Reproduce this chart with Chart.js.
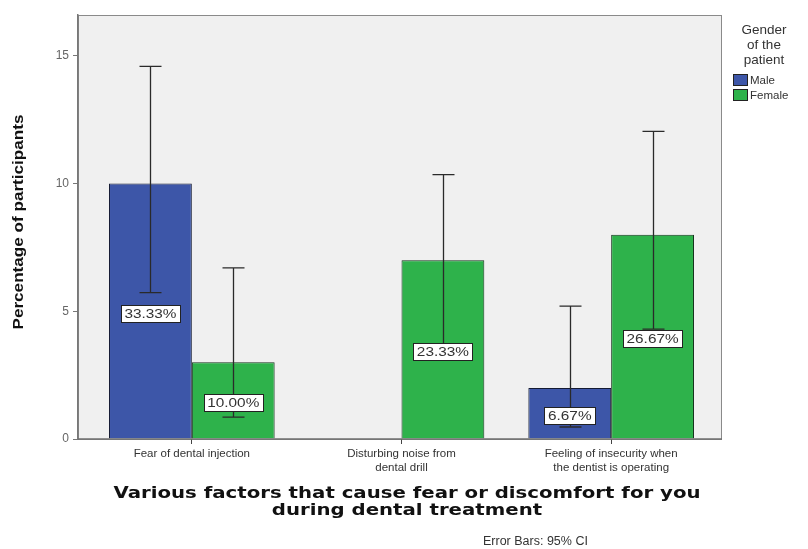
<!DOCTYPE html>
<html>
<head>
<meta charset="utf-8">
<script src="https://cdn.jsdelivr.net/npm/chart.js@4/dist/chart.umd.min.js"></script>
<style>
  html, body { margin: 0; padding: 0; background: #fff; }
  #wrap { width: 808px; height: 549px; }
</style>
</head>
<body>
<div id="wrap"><canvas id="report" width="808" height="549"></canvas></div>
<script>
// data
const categories = [
    ['Fear of dental injection'],
    ['Disturbing noise from', 'dental drill'],
    ['Feeling of insecurity when', 'the dentist is operating']
];
const seriesNames = ['Male', 'Female'];
const maleValues = [10, null, 2];
const femaleValues = [3, 7, 8];
// 95% CI ends
const maleLow = [5.73, null, 0.47];
const maleHigh = [14.59, null, 5.2];
const femaleLow = [0.86, 3.6, 4.3];
const femaleHigh = [6.7, 10.35, 12.04];
// labels printed in the bars
const maleLabels = ['33.33%', null, '6.67%'];
const femaleLabels = ['10.00%', '23.33%', '26.67%'];
const yTicks = [0, 5, 10, 15];

const colors = {
    'Male': '#3d56a8',
    'Female': '#2eb24b'
};

const lows = [maleLow, femaleLow];
const highs = [maleHigh, femaleHigh];
const barLabels = [maleLabels, femaleLabels];

// SPSS leaves a bit more room on the left of the first category
const insetPlugin = {
    id: 'inset',
    afterLayout(chart) {
        const x = chart.scales.x;
        x.left = chart.chartArea.left + 9;
        x.right = chart.chartArea.right - 6;
        x.width = x.right - x.left;
        x.configure();
    }
};

// plot background + frame
const framePlugin = {
    id: 'frame',
    beforeDraw(chart) {
        const a = chart.chartArea;
        const ctx = chart.ctx;
        ctx.save();
        ctx.fillStyle = '#f0f0f0';
        ctx.fillRect(a.left, a.top, a.right - a.left, a.bottom - a.top);
        ctx.strokeStyle = '#8a8a8a';
        ctx.lineWidth = 1;
        ctx.strokeRect(a.left + 0.5, a.top + 0.5, a.right - a.left - 1, a.bottom - a.top);
        ctx.restore();
    },
    afterDatasetsDraw(chart) {
        const a = chart.chartArea;
        const ctx = chart.ctx;
        ctx.save();
        ctx.strokeStyle = '#6f6f6f';
        ctx.lineWidth = 1.5;
        ctx.beginPath();
        ctx.moveTo(a.left, a.bottom);
        ctx.lineTo(a.right, a.bottom);
        ctx.stroke();
        ctx.restore();
    }
};

// error bars and value boxes
const extrasPlugin = {
    id: 'extras',
    afterDatasetsDraw(chart) {
        const ctx = chart.ctx;
        const y = chart.scales.y;
        ctx.save();
        ctx.strokeStyle = '#2a2a2a';
        ctx.lineWidth = 1.3;
        for (let d = 0; d < 2; d++) {
            const meta = chart.getDatasetMeta(d);
            meta.data.forEach(function(bar, i) {
                if (lows[d][i] == null) return;
                const x = Math.round(bar.x) + 0.5;
                const yl = y.getPixelForValue(lows[d][i]);
                const yh = y.getPixelForValue(highs[d][i]);
                ctx.beginPath();
                ctx.moveTo(x, yl); ctx.lineTo(x, yh);
                ctx.moveTo(x - 11, yl); ctx.lineTo(x + 11, yl);
                ctx.moveTo(x - 11, yh); ctx.lineTo(x + 11, yh);
                ctx.stroke();
            });
        }
        ctx.font = '12px "Liberation Sans", Arial, sans-serif';
        ctx.textAlign = 'center';
        ctx.textBaseline = 'middle';
        const sx = 1.28;
        const values = [maleValues, femaleValues];
        for (let d = 0; d < 2; d++) {
            const meta = chart.getDatasetMeta(d);
            meta.data.forEach(function(bar, i) {
                const txt = barLabels[d][i];
                if (!txt) return;
                const x = bar.x;
                const yc = y.getPixelForValue(values[d][i] / 2) + 2;
                const w = Math.round(ctx.measureText(txt).width * sx + 7);
                const h = 17;
                const bx = Math.round(x - w / 2) + 0.5;
                const by = Math.round(yc - h / 2) + 0.5;
                ctx.fillStyle = '#ffffff';
                ctx.fillRect(bx, by, w, h);
                ctx.strokeStyle = '#222';
                ctx.lineWidth = 1;
                ctx.strokeRect(bx, by, w, h);
                ctx.fillStyle = '#333';
                ctx.save();
                ctx.translate(x, yc + 1);
                ctx.scale(sx, 1);
                ctx.fillText(txt, 0, 0);
                ctx.restore();
            });
        }
        ctx.restore();
    }
};

// titles, legend and footnote
const textPlugin = {
    id: 'texts',
    afterDraw(chart) {
        const ctx = chart.ctx;
        ctx.save();
        // y title
        ctx.fillStyle = '#111';
        ctx.font = 'bold 15px "Liberation Sans Narrow", "Liberation Sans", Arial, sans-serif';
        ctx.textAlign = 'center';
        ctx.textBaseline = 'middle';
        const yt = 'Percentage of participants';
        const yw = ctx.measureText(yt).width;
        ctx.translate(19, 222);
        ctx.rotate(-Math.PI / 2);
        ctx.scale(215 / yw, 1);
        ctx.fillText(yt, 0, 0);
        ctx.restore();

        ctx.save();
        ctx.fillStyle = '#111';
        ctx.textAlign = 'center';
        ctx.textBaseline = 'middle';
        ctx.font = 'bold 16px "DejaVu Sans", Verdana, sans-serif';
        const l1 = 'Various factors that cause fear or discomfort for you';
        const w1 = ctx.measureText(l1).width;
        ctx.save();
        ctx.translate(407, 494);
        ctx.scale(587 / w1, 1);
        ctx.fillText(l1, 0, 0);
        ctx.fillText('during dental treatment', 0, 17);
        ctx.restore();

        // footnote
        ctx.fillStyle = '#333';
        ctx.font = '12.5px "Liberation Sans", Arial, sans-serif';
        ctx.textAlign = 'left';
        ctx.fillText('Error Bars: 95% CI', 483, 542);

        // legend
        ctx.textAlign = 'center';
        ctx.font = '13.5px "Liberation Sans", Arial, sans-serif';
        ctx.fillStyle = '#333';
        ctx.fillText('Gender', 764, 30);
        ctx.fillText('of the', 764, 45);
        ctx.fillText('patient', 764, 60);
        ctx.textAlign = 'left';
        ctx.font = '11.5px "Liberation Sans", Arial, sans-serif';
        seriesNames.forEach(function(name, i) {
            const top = 74 + i * 15;
            ctx.fillStyle = colors[name];
            ctx.fillRect(733, top, 15, 12);
            ctx.strokeStyle = '#222';
            ctx.strokeRect(733.5, top + 0.5, 14, 11);
            ctx.fillStyle = '#333';
            ctx.fillText(name, 750, top + 6.5);
        });
        ctx.restore();
    }
};

const pat = document.getElementById('report').getContext('2d');
const scoresChart = new Chart(pat, {
    type: 'bar',
    data: {
        labels: categories,
        datasets: [{
            label: seriesNames[0],
            data: maleValues,
            backgroundColor: colors['Male'],
            borderColor: '#141a33',
            borderWidth: 1
        }, {
            label: seriesNames[1],
            data: femaleValues,
            backgroundColor: colors['Female'],
            borderColor: '#12321a',
            borderWidth: 1
        }]
    },
    options: {
        responsive: false,
        animation: false,
        devicePixelRatio: 1,
        layout: { padding: { left: 0, top: 15, right: 86, bottom: 0 } },
        datasets: {
            bar: { categoryPercentage: 0.79, barPercentage: 1.0 }
        },
        plugins: {
            legend: { display: false },
            tooltip: { enabled: false }
        },
        scales: {
            x: {
                grid: {
                    display: true,
                    offset: false,
                    drawOnChartArea: false,
                    drawTicks: true,
                    tickLength: 5,
                    color: '#444'
                },
                border: { display: false },
                ticks: {
                    color: '#333',
                    font: { family: '"Liberation Sans", Arial, sans-serif', size: 11.5 },
                    padding: 3,
                    maxRotation: 0,
                    autoSkip: false
                },
                afterFit: function(scale) { scale.height = 110; }
            },
            y: {
                min: 0,
                max: 16.6,
                afterBuildTicks: function(scale) {
                    scale.ticks = yTicks.map(v => ({ value: v }));
                },
                grid: {
                    drawOnChartArea: false,
                    drawTicks: true,
                    tickLength: 5,
                    color: '#777'
                },
                border: { color: '#777', width: 1.5 },
                ticks: {
                    color: '#666',
                    font: { family: '"Liberation Sans", Arial, sans-serif', size: 12 },
                    padding: 4
                },
                afterFit: function(scale) { scale.width = 78; }
            }
        }
    },
    plugins: [insetPlugin, framePlugin, extrasPlugin, textPlugin]
});
</script>
</body>
</html>
